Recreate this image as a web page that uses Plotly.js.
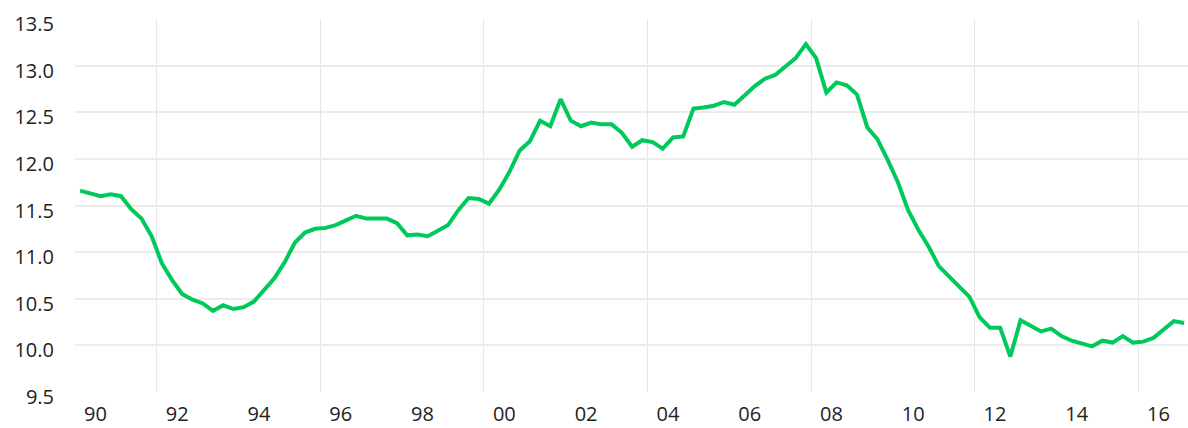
<!DOCTYPE html>
<html>
<head>
<meta charset="utf-8">
<script src="https://cdn.plot.ly/plotly-3.0.1.min.js"></script>
<style>html,body{margin:0;padding:0;background:#fff;}#chart{width:1188px;height:428px;}</style>
</head>
<body>
<div id="chart"></div>
<script>
// Quarterly series, 1990 Q1 .. 2017 Q1
const startYear = 1990;
const values = [
  11.66, 11.63, 11.60, 11.62, 11.60, 11.46, 11.36, 11.17,
  10.88, 10.70, 10.55, 10.49, 10.45, 10.37, 10.43, 10.39,
  10.41, 10.47, 10.60, 10.72, 10.89, 11.10, 11.21, 11.25,
  11.26, 11.29, 11.34, 11.39, 11.36, 11.36, 11.36, 11.31,
  11.18, 11.19, 11.17, 11.23, 11.29, 11.45, 11.58, 11.57,
  11.52, 11.67, 11.86, 12.09, 12.19, 12.41, 12.35, 12.64,
  12.41, 12.35, 12.39, 12.37, 12.37, 12.28, 12.13, 12.20,
  12.18, 12.11, 12.23, 12.24, 12.54, 12.55, 12.57, 12.61,
  12.58, 12.68, 12.78, 12.86, 12.90, 12.99, 13.08, 13.23,
  13.08, 12.71, 12.82, 12.79, 12.69, 12.34, 12.21, 11.99,
  11.75, 11.45, 11.24, 11.06, 10.85, 10.74, 10.63, 10.52,
  10.30, 10.19, 10.19, 9.88, 10.27, 10.21, 10.15, 10.18,
  10.10, 10.05, 10.02, 9.99, 10.05, 10.03, 10.10, 10.03,
  10.04, 10.08, 10.17, 10.26, 10.24
];
// time of each quarter (mid-quarter, in fractional years)
const quarterTimes = values.map((_, i) => startYear + Math.floor(i / 4) + ((i % 4) + 0.5) / 4);

const labelYears = [1990, 1992, 1994, 1996, 1998, 2000, 2002, 2004, 2006, 2008, 2010, 2012, 2014, 2016];
const tickLabels = ["90","92","94","96","98","00","02","04","06","08","10","12","14","16"];
const xGridYears = [1992, 1996, 2000, 2004, 2008, 2012, 2016];
const yTicks = [9.5, 10.0, 10.5, 11.0, 11.5, 12.0, 12.5, 13.0, 13.5];
const yTickLabels = ["9.5","10.0","10.5","11.0","11.5","12.0","12.5","13.0","13.5"];
const yGrid = [10.0, 10.5, 11.0, 11.5, 12.0, 12.5, 13.0];

const trace = {
  x: quarterTimes,
  y: values,
  type: 'scatter',
  mode: 'lines',
  line: {color: '#00c95c', width: 4},
  hoverinfo: 'x+y'
};

const font = {family: '"Open Sans", "Noto Sans", sans-serif', size: 20, color: '#222222'};

const layout = {
  width: 1188, height: 428,
  margin: {l: 75, r: 0, t: 19, b: 36, pad: 0},
  paper_bgcolor: '#ffffff',
  plot_bgcolor: '#ffffff',
  showlegend: false,
  font: font,
  xaxis: {
    range: [1990, 2017.22],
    tickmode: 'array',
    tickvals: labelYears.map(y => y + 0.5),
    ticktext: tickLabels,
    showgrid: false,
    zeroline: false,
    showline: false,
    ticks: '',
    ticklabelstandoff: 8,
    tickfont: font,
    minor: {tickmode: 'array', tickvals: xGridYears, showgrid: true, gridcolor: '#e6e6e6', gridwidth: 1, ticks: ''}
  },
  yaxis: {
    range: [9.5, 13.5],
    tickmode: 'array',
    tickvals: yTicks,
    ticktext: yTickLabels,
    showgrid: false,
    zeroline: false,
    showline: false,
    ticks: '',
    ticklabelstandoff: 20,
    ticklabelshift: 5,
    tickfont: font,
    minor: {tickmode: 'array', tickvals: yGrid, showgrid: true, gridcolor: '#ececec', gridwidth: 2, ticks: ''}
  }
};

Plotly.newPlot('chart', [trace], layout, {displayModeBar: false, staticPlot: true});
</script>
</body>
</html>
